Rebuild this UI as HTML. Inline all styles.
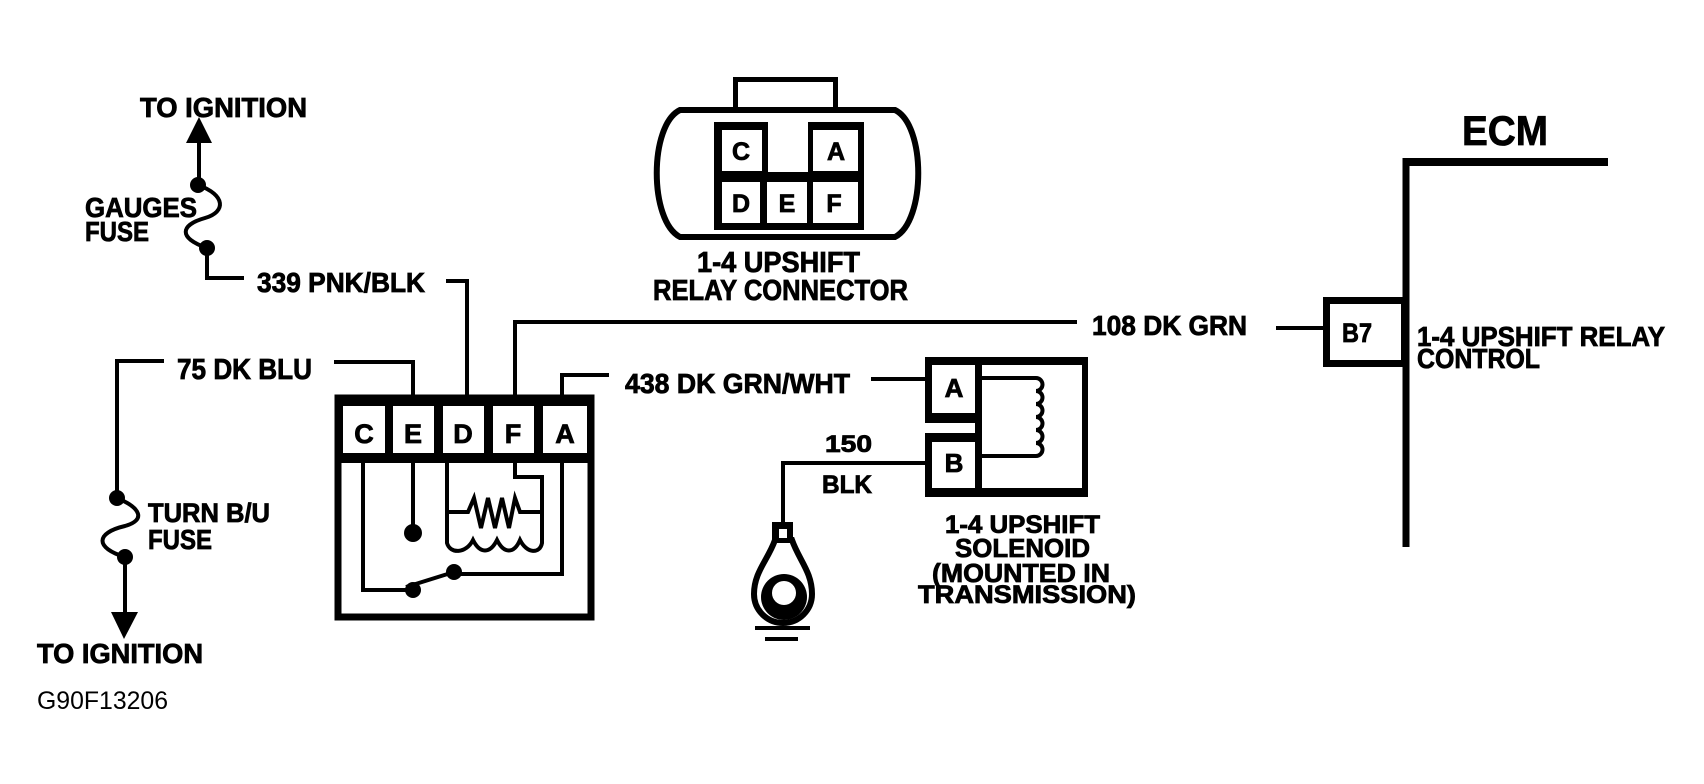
<!DOCTYPE html>
<html>
<head>
<meta charset="utf-8">
<style>
  html,body{margin:0;padding:0;background:#fff;}
  svg{display:block;}
  text{font-family:"Liberation Sans",Arial,sans-serif;font-weight:bold;fill:#000;stroke:#000;stroke-width:0.8px;}
  text.reg{font-weight:normal;stroke:none;}
</style>
</head>
<body>
<svg width="1704" height="784" viewBox="0 0 1704 784" xmlns="http://www.w3.org/2000/svg">
<rect x="0" y="0" width="1704" height="784" fill="#fff"/>

<g fill="none" stroke="#000" stroke-width="4" stroke-linejoin="miter" stroke-linecap="square">
  <!-- Top-left gauges fuse -->
  <line x1="199" y1="140" x2="199" y2="185"/>
  <path d="M198,185 C226,195 226,212 205,218 C180,225 178,238 207,248" stroke-linecap="round"/>
  <polyline points="207,248 207,278 242,278"/>
  <!-- 339 wire -->
  <polyline points="448,281 467,281 467,398"/>

  <!-- Lower-left turn b/u fuse -->
  <polyline points="162,361 117,361 117,498"/>
  <path d="M117,498 C141,508 146,520 125,526 C95,533 95,548 125,557" stroke-linecap="round"/>
  <line x1="125" y1="557" x2="125" y2="615"/>

  <!-- 75 DK BLU wire -->
  <polyline points="336,362 413,362 413,398"/>
  <!-- F wire / 108 DK GRN -->
  <polyline points="515,398 515,322 1075,322"/>
  <!-- A wire / 438 -->
  <polyline points="562,398 562,375 607,375"/>
  <line x1="873" y1="379" x2="925" y2="379"/>
  <!-- 150 BLK -->
  <polyline points="925,463 783,463 783,523"/>
  <!-- to B7 -->
  <line x1="1278" y1="328" x2="1323" y2="328"/>
</g>

<!-- arrows and dots -->
<polygon points="199,117 186,143 212,143" fill="#000"/>
<circle cx="198" cy="185" r="8" fill="#000"/>
<circle cx="207" cy="248" r="8" fill="#000"/>
<circle cx="117" cy="498" r="8" fill="#000"/>
<circle cx="125" cy="557" r="8" fill="#000"/>
<polygon points="111,612 138,612 124,639" fill="#000"/>

<!-- Relay box -->
<rect x="338" y="398" width="253" height="219" fill="none" stroke="#000" stroke-width="7"/>
<rect x="338" y="396" width="253" height="67" fill="#000"/>
<g fill="#fff">
  <rect x="343" y="406" width="42" height="47"/>
  <rect x="393" y="406" width="41" height="47"/>
  <rect x="443" y="406" width="41" height="47"/>
  <rect x="493" y="406" width="41" height="47"/>
  <rect x="543" y="406" width="44" height="47"/>
</g>
<g font-size="27" text-anchor="middle">
  <text x="364" y="443">C</text>
  <text x="413" y="443">E</text>
  <text x="463" y="443">D</text>
  <text x="513" y="443">F</text>
  <text x="565" y="443">A</text>
</g>
<g fill="none" stroke="#000" stroke-width="4" stroke-linejoin="miter">
  <polyline points="363,463 363,590 410,590"/>
  <line x1="406" y1="587" x2="454" y2="572"/>
  <polyline points="562,463 562,574 454,574"/>
  <line x1="413" y1="463" x2="413" y2="533"/>
  <path d="M447,463 V543 C450,554 466,554 473,540 C480,554 490,554 497,540 C504,554 514,554 520,540 C527,554 540,554 542,543 V477 H515 V463"/>
  <path d="M447,512 H468 L474,498 L481,528 L488,498 L495,528 L502,498 L509,528 L515,498 L520,512 H542"/>
</g>
<circle cx="413" cy="590" r="8" fill="#000"/>
<circle cx="454" cy="572" r="8" fill="#000"/>
<circle cx="413" cy="533" r="9" fill="#000"/>

<!-- Relay connector (top center) -->
<rect x="735.5" y="79.5" width="100" height="30" fill="none" stroke="#000" stroke-width="5"/>
<path d="M680,110 H895 C926,125 926,221 895,237 H680 C649,221 649,125 680,110 Z" fill="#fff" stroke="#000" stroke-width="6"/>
<rect x="714" y="122" width="150" height="108" fill="#000"/>
<g fill="#fff">
  <rect x="768" y="120" width="40" height="52"/>
  <rect x="722" y="130" width="40" height="41"/>
  <rect x="813" y="130" width="45" height="41"/>
  <rect x="722" y="182" width="38" height="41"/>
  <rect x="767" y="182" width="40" height="41"/>
  <rect x="813" y="182" width="45" height="41"/>
</g>
<g font-size="25" text-anchor="middle">
  <text x="741" y="160">C</text>
  <text x="836" y="160">A</text>
  <text x="741" y="212">D</text>
  <text x="787" y="212">E</text>
  <text x="834" y="212">F</text>
</g>

<!-- Solenoid -->
<rect x="925" y="357" width="163" height="140" fill="#000"/>
<g fill="#fff">
  <rect x="932" y="365" width="43" height="48"/>
  <rect x="918" y="423" width="57" height="10"/>
  <rect x="932" y="442" width="43" height="46"/>
  <rect x="982" y="365" width="100" height="123"/>
</g>
<path d="M982,378 H1036 a6.5,6.5 0 0 1 0,13 a6.5,6.5 0 0 1 0,13 a6.5,6.5 0 0 1 0,13 a6.5,6.5 0 0 1 0,13 a6.5,6.5 0 0 1 0,13 a6.5,6.5 0 0 1 0,13 H982" fill="none" stroke="#000" stroke-width="4"/>
<g font-size="26" text-anchor="middle">
  <text x="954" y="397">A</text>
  <text x="954" y="472">B</text>
</g>

<!-- Ground lug -->
<path d="M775,540 C768,560 754,572 754,594 A29,29 0 0 0 812,594 C812,572 799,560 792,540 Z" fill="#fff" stroke="#000" stroke-width="6"/>
<circle cx="784" cy="597" r="23" fill="#000"/>
<circle cx="784" cy="593" r="12" fill="#fff"/>
<rect x="772" y="522" width="21" height="20" fill="#000"/>
<rect x="779" y="529" width="8" height="9" fill="#fff"/>
<rect x="755" y="626" width="55" height="4" fill="#000"/>
<rect x="765" y="637" width="33" height="4" fill="#000"/>

<!-- ECM -->
<line x1="1406" y1="162" x2="1608" y2="162" stroke="#000" stroke-width="8"/>
<line x1="1406" y1="158" x2="1406" y2="547" stroke="#000" stroke-width="7"/>
<rect x="1326.5" y="300.5" width="78" height="63" fill="none" stroke="#000" stroke-width="7"/>

<!-- Labels -->
<text x="140" y="117" font-size="28" textLength="167" lengthAdjust="spacingAndGlyphs">TO IGNITION</text>
<text x="85" y="217" font-size="28" textLength="112" lengthAdjust="spacingAndGlyphs">GAUGES</text>
<text x="85" y="241" font-size="28" textLength="64" lengthAdjust="spacingAndGlyphs">FUSE</text>
<text x="257" y="292" font-size="28" textLength="168" lengthAdjust="spacingAndGlyphs">339 PNK/BLK</text>
<text x="177" y="379" font-size="29" textLength="135" lengthAdjust="spacingAndGlyphs">75 DK BLU</text>
<text x="148" y="522" font-size="27" textLength="122" lengthAdjust="spacingAndGlyphs">TURN B/U</text>
<text x="148" y="549" font-size="28" textLength="64" lengthAdjust="spacingAndGlyphs">FUSE</text>
<text x="37" y="663" font-size="28" textLength="166" lengthAdjust="spacingAndGlyphs">TO IGNITION</text>
<text class="reg" x="37" y="709" font-size="25" textLength="131" lengthAdjust="spacingAndGlyphs">G90F13206</text>

<text x="697" y="272" font-size="29" textLength="163" lengthAdjust="spacingAndGlyphs">1-4 UPSHIFT</text>
<text x="653" y="300" font-size="29" textLength="255" lengthAdjust="spacingAndGlyphs">RELAY CONNECTOR</text>

<text x="625" y="393" font-size="28" textLength="225" lengthAdjust="spacingAndGlyphs">438 DK GRN/WHT</text>
<text x="825" y="452" font-size="24" textLength="47" lengthAdjust="spacingAndGlyphs">150</text>
<text x="822" y="493" font-size="25" textLength="50" lengthAdjust="spacingAndGlyphs">BLK</text>

<text x="945" y="533" font-size="25" textLength="155" lengthAdjust="spacingAndGlyphs">1-4 UPSHIFT</text>
<text x="955" y="557" font-size="26" textLength="135" lengthAdjust="spacingAndGlyphs">SOLENOID</text>
<text x="932" y="582" font-size="26" textLength="178" lengthAdjust="spacingAndGlyphs">(MOUNTED IN</text>
<text x="918" y="603" font-size="25" textLength="218" lengthAdjust="spacingAndGlyphs">TRANSMISSION)</text>

<text x="1092" y="335" font-size="28" textLength="155" lengthAdjust="spacingAndGlyphs">108 DK GRN</text>
<text x="1462" y="145" font-size="42" textLength="86" lengthAdjust="spacingAndGlyphs">ECM</text>
<text x="1342" y="342" font-size="27" textLength="30" lengthAdjust="spacingAndGlyphs">B7</text>
<text x="1417" y="346" font-size="28" textLength="248" lengthAdjust="spacingAndGlyphs">1-4 UPSHIFT RELAY</text>
<text x="1417" y="368" font-size="28" textLength="123" lengthAdjust="spacingAndGlyphs">CONTROL</text>
</svg>
</body>
</html>
